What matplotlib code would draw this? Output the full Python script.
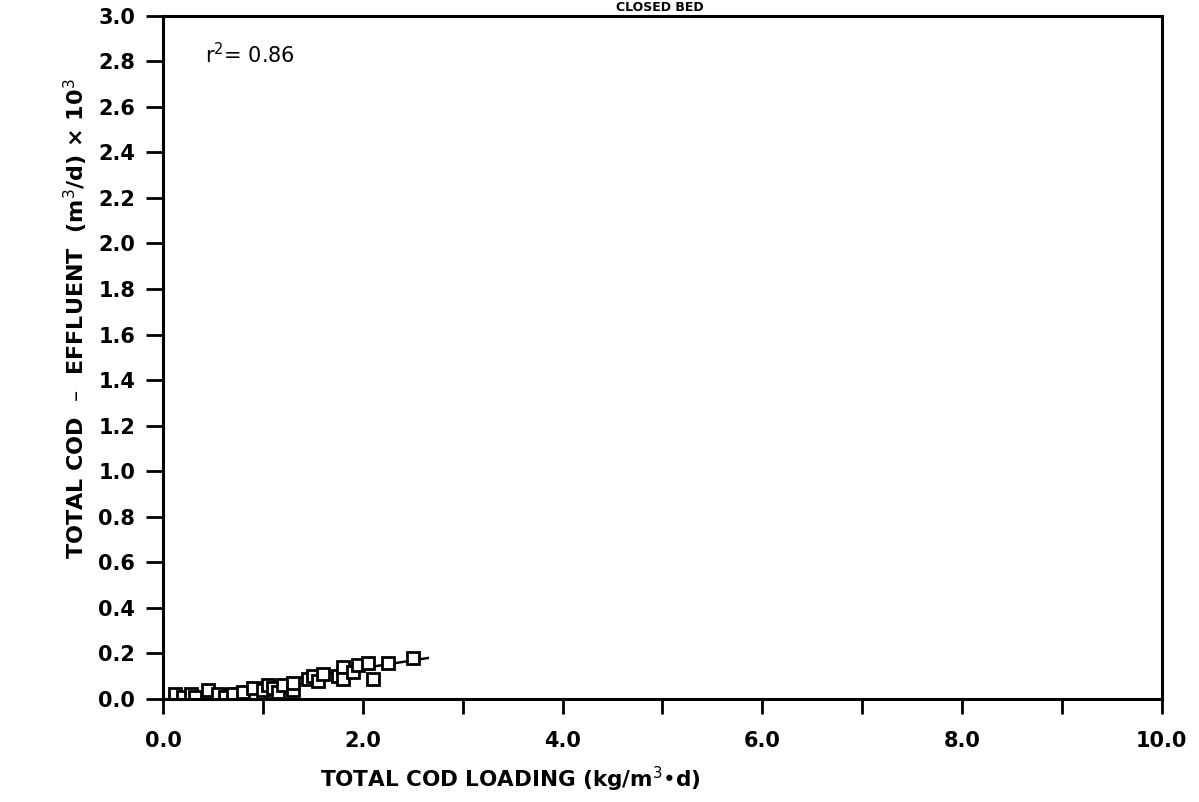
import matplotlib
matplotlib.use("Agg")
import matplotlib.pyplot as plt
from matplotlib.ticker import MultipleLocator

# Total COD loading vs total COD effluent (closed bed)
loading = [0.12, 0.20, 0.28, 0.32, 0.45, 0.55, 0.62, 0.70, 0.80, 0.90,
           1.00, 1.05, 1.10, 1.15, 1.20, 1.30, 1.30, 1.45, 1.50, 1.55,
           1.60, 1.75, 1.80, 1.80, 1.90, 1.95, 2.05, 2.10, 2.25, 2.50]
effluent = [0.02, 0.01, 0.02, 0.01, 0.04, 0.02, 0.01, 0.02, 0.03, 0.05,
            0.04, 0.06, 0.05, 0.03, 0.06, 0.04, 0.07, 0.09, 0.10, 0.08,
            0.11, 0.10, 0.14, 0.09, 0.12, 0.15, 0.16, 0.09, 0.16, 0.18]

# regression line end points
fit_x = [0.10, 2.65]
fit_y = [0.005, 0.18]

r2_text = "r$^2$= 0.86"

fig = plt.figure(figsize=(11.99, 8.02), dpi=100)
ax = fig.add_axes([0.136, 0.1284, 0.833, 0.852])

ax.plot(fit_x, fit_y, color="black", lw=1.8)
ax.plot(loading, effluent, ls="none", marker="s", ms=8.5, mfc="white",
        mec="black", mew=2)

ax.set_xlim(0, 10)
ax.set_ylim(0, 3.0)
ax.xaxis.set_major_locator(MultipleLocator(2))
ax.xaxis.set_minor_locator(MultipleLocator(1))
ax.yaxis.set_major_locator(MultipleLocator(0.2))
ax.xaxis.set_major_formatter(plt.FormatStrFormatter("%.1f"))
ax.yaxis.set_major_formatter(plt.FormatStrFormatter("%.1f"))

for s in ax.spines.values():
    s.set_linewidth(2.2)
ax.tick_params(axis="both", which="both", direction="out", width=2)
ax.tick_params(axis="x", which="both", length=11, pad=12)
ax.tick_params(axis="y", which="major", length=12, pad=8)
for lab in ax.get_xticklabels() + ax.get_yticklabels():
    lab.set_fontsize(15)
    lab.set_fontweight("bold")

ax.text(0.42, 2.83, r2_text, fontsize=15, va="center")

fig.text(0.063, 0.603, "TOTAL COD  –  EFFLUENT  (m$^3$/d) × 10$^3$",
         rotation=90, ha="center", va="center", fontsize=16, fontweight="bold")
fig.text(0.426, 0.028, "TOTAL COD LOADING (kg/m$^3$•d)",
         ha="center", va="center", fontsize=15.5, fontweight="bold")
fig.text(0.55, 0.999, "CLOSED BED", ha="center", va="top",
         fontsize=9, fontweight="bold")

fig.savefig("out.png", dpi=100)
